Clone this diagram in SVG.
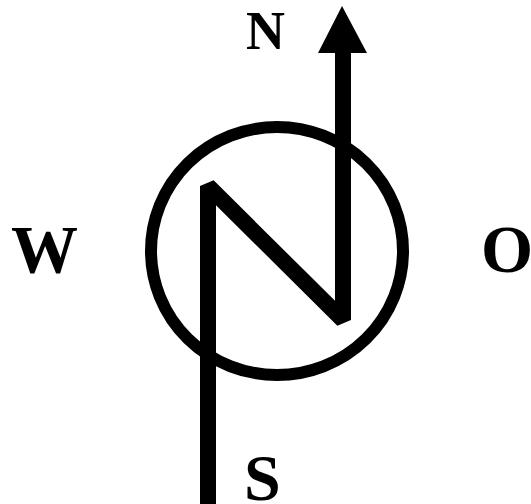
<svg xmlns="http://www.w3.org/2000/svg" width="531" height="504" viewBox="0 0 531 504">
<style>
.lbl{font-family:"Liberation Serif","Times New Roman",serif;font-weight:bold;fill:#000}
</style>
<rect width="531" height="504" fill="#fff"/>
<g id="circle"><ellipse cx="277" cy="251" rx="126" ry="124" fill="none" stroke="#000" stroke-width="12"/></g>
<g id="connectors">
<polyline points="208,504 208,186 343,320 343,48" fill="none" stroke="#000" stroke-width="16" stroke-linejoin="bevel"/>
<polygon points="342,6 367,53 318,53" fill="#000"/>
</g>
<g id="label-N"><text class="lbl" x="246" y="49" font-size="54">N</text></g>
<g id="label-W"><text class="lbl" x="11" y="272" font-size="67">W</text></g>
<g id="label-O"><text class="lbl" x="481" y="272" font-size="67">O</text></g>
<g id="label-S"><text class="lbl" x="244" y="500" font-size="66">S</text></g>
</svg>
